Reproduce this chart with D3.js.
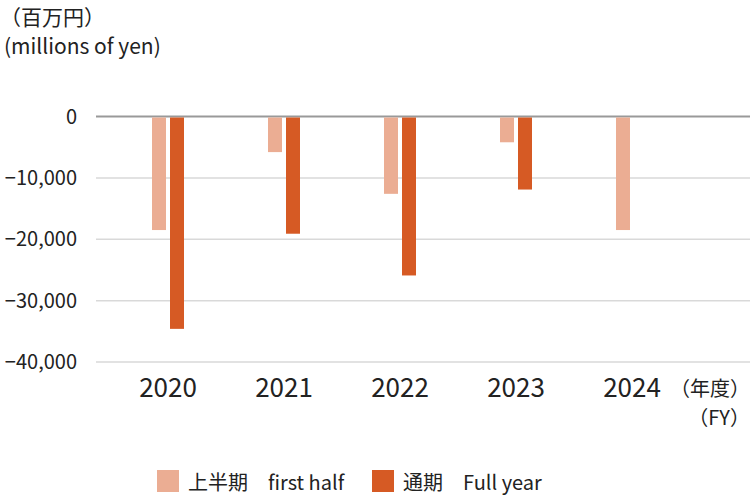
<!DOCTYPE html>
<html><head><meta charset="utf-8">
<script src="https://cdn.jsdelivr.net/npm/d3@7"></script>
<style>body{margin:0;background:#fff;} text{font-family:"Noto Sans CJK JP","Noto Sans",sans-serif;fill:#222;}</style>
</head><body><svg id="c" width="750" height="500"></svg>
<script>
const years = ["2020","2021","2022","2023","2024"];
const firstHalf = [-18500,-5800,-12600,-4200,-18500];
const fullYear = [-34600,-19100,-25900,-11900,null];
const yTicks = [0,-10000,-20000,-30000,-40000];
const seriesNames = ["上半期　first half","通期　Full year"];
const colors = ["#EBAD93","#D65A24"];

const svg = d3.select("#c");
const x = d3.scaleBand().domain(years).range([110,690]).paddingInner(0).paddingOuter(0);
const y = d3.scaleLinear().domain([-40000,0]).range([362,116.5]);

// gridlines
svg.append("g").selectAll("line").data(yTicks).join("line")
  .attr("x1",96).attr("x2",750).attr("y1",d=>y(d)).attr("y2",d=>y(d))
  .attr("stroke",d=>d===0?"#999":"#d9d9d9").attr("stroke-width",d=>d===0?2:1.5);

const fmt = d=> d===0?"0":"−"+d3.format(",")(Math.abs(d));
svg.append("g").selectAll("text").data(yTicks).join("text")
  .attr("x",77).attr("y",d=>y(d)).attr("dy","0.36em").attr("text-anchor","end")
  .attr("font-size",20).text(fmt);

const bw = 14;
svg.append("g").selectAll("rect").data(years.map((c,i)=>({c,v:firstHalf[i]})).filter(d=>d.v!=null)).join("rect")
  .attr("x",d=>x(d.c)+x.bandwidth()/2-16).attr("width",bw)
  .attr("y",y(0)+1).attr("height",d=>y(d.v)-y(0)-1).attr("fill",colors[0]);
svg.append("g").selectAll("rect").data(years.map((c,i)=>({c,v:fullYear[i]})).filter(d=>d.v!=null)).join("rect")
  .attr("x",d=>x(d.c)+x.bandwidth()/2+2).attr("width",bw)
  .attr("y",y(0)+1).attr("height",d=>y(d.v)-y(0)-1).attr("fill",colors[1]);

// x labels
svg.append("g").selectAll("text").data(years).join("text")
  .attr("x",d=>x(d)+x.bandwidth()/2).attr("y",397).attr("text-anchor","middle")
  .attr("font-size",26).text(d=>d);
svg.append("text").attr("x",750).attr("y",396).attr("text-anchor","end").attr("font-size",20).text("（年度）");
svg.append("text").attr("x",750).attr("y",425).attr("text-anchor","end").attr("font-size",20).text("（FY）");

// header
svg.append("text").attr("x",0).attr("y",25).attr("font-size",21).text("（百万円）");
svg.append("text").attr("x",4).attr("y",54).attr("font-size",21).text("(millions of yen)");

// legend
const lg = [{x:157,tx:188},{x:372,tx:403}];
lg.forEach((p,i)=>{
  svg.append("rect").attr("x",p.x).attr("y",470).attr("width",22).attr("height",22).attr("fill",colors[i]);
  svg.append("text").attr("x",p.tx).attr("y",490).attr("font-size",20).text(seriesNames[i]);
});
</script></body></html>
